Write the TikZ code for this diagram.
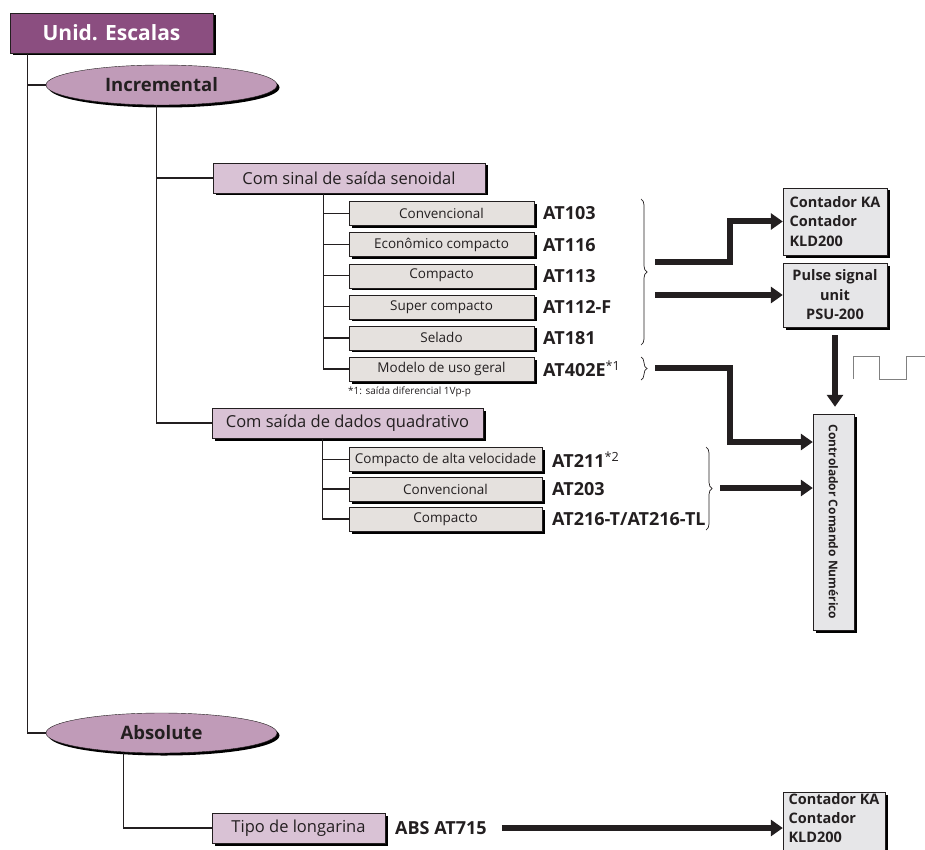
\documentclass[tikz,border=0pt]{standalone}
\usepackage{fontspec}
\setmainfont{Open Sans}
\usetikzlibrary{arrows.meta, positioning, shapes.geometric, shadows, decorations.pathreplacing}

\definecolor{plum}{RGB}{139,78,128}
\definecolor{mauve}{RGB}{192,155,184}
\definecolor{lilac}{RGB}{217,194,213}
\definecolor{stone}{RGB}{229,225,222}
\definecolor{panel}{RGB}{230,230,232}
\definecolor{ink}{RGB}{35,31,32}

\begin{document}
\begin{tikzpicture}[x=1pt, y=-1pt]
  \useasboundingbox (0,0) rectangle (925,850);

  % Define styles for the boxes
  \tikzstyle{boxshadow}=[drop shadow={shadow xshift=2.5pt, shadow yshift=-2.5pt, fill=black, opacity=1}]
  \tikzstyle{rootbox}=[rectangle, draw=ink, fill=plum, text=white, font=\fontsize{21}{24}\selectfont\bfseries, minimum width=203pt, minimum height=40pt, inner sep=0pt, boxshadow]
  \tikzstyle{oval}=[ellipse, draw=ink, fill=mauve, text=ink, font=\fontsize{18.5}{22}\selectfont\bfseries, minimum width=231pt, minimum height=40pt, inner sep=0pt, boxshadow]
  \tikzstyle{groupbox}=[rectangle, draw=ink, fill=lilac, text=ink, font=\fontsize{16.5}{20}\selectfont, minimum height=30pt, inner sep=0pt, boxshadow]
  \tikzstyle{itembox}=[rectangle, draw=ink, fill=stone, text=ink, font=\fontsize{13.5}{16}\selectfont, minimum height=24pt, inner sep=0pt, boxshadow]
  \tikzstyle{model}=[anchor=west, inner sep=0pt, text=ink, font=\fontsize{18}{21}\selectfont\bfseries]
  \tikzstyle{device}=[rectangle, draw=ink, fill=panel, text=ink, font=\fontsize{14.5}{19.5}\selectfont\bfseries, inner sep=0pt, boxshadow]

  % Define styles for the lines
  \tikzstyle{tree}=[ink, line width=1.2pt]
  \tikzstyle{flow}=[ink, line width=6pt, -{Triangle[length=12pt, width=16pt]}]
  \tikzstyle{curly}=[ink, line width=0.7pt, decorate, decoration={brace, amplitude=6pt}]

  % Top of the tree
  \node[rootbox] (root) at (111.5,33) {Unid. Escalas};
  \node[oval] (inc) at (161.5,85) {Incremental};
  \node[oval] (abs) at (161.5,733) {Absolute};

  % Sinusoidal output
  \node[groupbox, minimum width=272pt] (sen) at (349,178) {Com sinal de saída senoidal};
  \begin{scope}[every node/.append style={minimum width=185pt}]
    \node[itembox] (s1) at (441.5,213.5) {Convencional};
    \node[itembox] (s2) at (441.5,244.6) {Econômico compacto};
    \node[itembox] (s3) at (441.5,275.7) {Compacto};
    \node[itembox] (s4) at (441.5,306.8) {Super compacto};
    \node[itembox] (s5) at (441.5,337.9) {Selado};
    \node[itembox] (s6) at (441.5,369) {Modelo de uso geral};
  \end{scope}
  \node[model] (m1) at (543,213.5) {AT103};
  \node[model] (m2) at (543,244.6) {AT116};
  \node[model] (m3) at (543,275.7) {AT113};
  \node[model] (m4) at (543,306.8) {AT112-F};
  \node[model] (m5) at (543,337.9) {AT181};
  \node[model] (m6) at (543,369) {AT402E\textsuperscript{\mdseries *1}};
  \node[anchor=west, inner sep=0pt, text=ink, font=\fontsize{10}{12}\selectfont] (note) at (348,392) {*1: saída diferencial 1Vp-p};

  % Quadrature output
  \node[groupbox, minimum width=271pt] (quad) at (347.5,423) {Com saída de dados quadrativo};
  \begin{scope}[every node/.append style={minimum width=193pt}]
    \node[itembox] (q1) at (445.5,459.5) {Compacto de alta velocidade};
    \node[itembox] (q2) at (445.5,489) {Convencional};
    \node[itembox] (q3) at (445.5,519) {Compacto};
  \end{scope}
  \node[model] (n1) at (552,459.5) {AT211\textsuperscript{\mdseries *2}};
  \node[model] (n2) at (552,489) {AT203};
  \node[model] (n3) at (552,519) {AT216-T/AT216-TL};

  % Absolute branch
  \node[groupbox, minimum width=173pt] (tipo) at (298.5,828) {Tipo de longarina};
  \node[model] (absmodel) at (395,828) {ABS AT715};

  % Devices on the right
  \node[device, minimum width=104pt, minimum height=67pt, align=left] (cnt1) at (835,221.5) {Contador KA\\Contador\\KLD200};
  \node[device, minimum width=104pt, minimum height=64pt, align=center] (psu) at (835,295) {Pulse signal\\unit\\PSU-200};
  \node[device, minimum width=41pt, minimum height=216pt, font=\fontsize{12}{15}\selectfont\bfseries] (cnc) at (833.5,522) {\rotatebox{-90}{Controlador Comando Numérico}};
  \node[device, minimum width=102pt, minimum height=67pt, align=left, font=\fontsize{14.5}{19}\selectfont\bfseries, text depth=15pt] (cnt2) at (834,825.5) {Contador KA\\Contador\\KLD200};

  % Tree connections
  \coordinate (trunk) at ([xshift=18pt]root.south west);
  \draw[tree] (trunk) |- (abs.west);
  \draw[tree] (trunk |- inc.west) -- (inc.west);

  \coordinate (incstem) at ([xshift=-5pt]inc.south);
  \draw[tree] (incstem) |- (quad.west);
  \draw[tree] (incstem |- sen.west) -- (sen.west);

  \coordinate (senstem) at ([xshift=111pt]sen.south west);
  \draw[tree] (senstem) |- (s6.west);
  \draw[tree] (senstem |- s1.west) -- (s1.west);
  \draw[tree] (senstem |- s2.west) -- (s2.west);
  \draw[tree] (senstem |- s3.west) -- (s3.west);
  \draw[tree] (senstem |- s4.west) -- (s4.west);
  \draw[tree] (senstem |- s5.west) -- (s5.west);

  \coordinate (quadstem) at ([xshift=111pt]quad.south west);
  \draw[tree] (quadstem) |- (q3.west);
  \draw[tree] (quadstem |- q1.west) -- (q1.west);
  \draw[tree] (quadstem |- q2.west) -- (q2.west);

  \coordinate (absstem) at ([xshift=-38pt]abs.south);
  \draw[tree] (absstem) |- (tipo.west);

  % Braces
  \draw[curly] (641,199) -- (641,345);
  \draw[curly] (641,357) -- (641,380);
  \draw[curly] (706,447) -- (706,530);

  % Signal flow
  \coordinate (out1) at (655,262);
  \coordinate (out2) at (655,295);
  \coordinate (out3) at (655,368);
  \coordinate (in3) at (730,442);
  \coordinate (out4) at (720,488);
  \coordinate (absout) at ([xshift=15pt]absmodel.east);
  \draw[flow] (out1) -| (730,221.5) -- (cnt1.west);
  \draw[flow] (out2) -- (out2 -| psu.west);
  \draw[flow] (out3) -| (in3) -- (in3 -| cnc.west);
  \draw[flow] (out4) -- (out4 -| cnc.west);
  \draw[flow] ([yshift=-8pt]psu.south) -- ([yshift=7pt]psu.south |- cnc.north);
  \draw[flow] (absout) -- (absout -| cnt2.west);

  % Pulse train
  \draw[gray, line width=0.9pt] (853,379) -- (853,356) -- (879,356) -- (879,379) -- (906,379) -- (906,356) -- (925,356);
\end{tikzpicture}
\end{document}
